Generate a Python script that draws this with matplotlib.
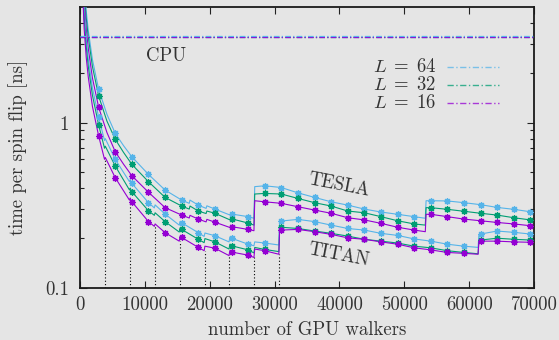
import matplotlib
matplotlib.use("Agg")
import matplotlib.pyplot as plt
from matplotlib.ticker import FixedLocator, NullLocator

plt.rcParams['font.family'] = 'cmr10'
plt.rcParams['mathtext.fontset'] = 'cm'
plt.rcParams['axes.unicode_minus'] = False

# walker counts where a point symbol sits on each curve
walkers_mk = [320, 2880, 5440, 8000, 10560, 13120, 15680, 18240, 20800, 23360,
              25920, 28480, 31040, 33600, 36160, 38720, 41280, 43840, 46400,
              48960, 51520, 54080, 56640, 59200, 61760, 64320, 66880, 69440]

# time per spin flip [ns] at walkers_mk
tesla64_mk = [14.0, 1.587, 0.860, 0.621, 0.486, 0.391, 0.340, 0.317, 0.300, 0.280,
              0.270, 0.415, 0.405, 0.376, 0.353, 0.332, 0.317, 0.300, 0.288,
              0.279, 0.270, 0.337, 0.336, 0.328, 0.319, 0.307, 0.299, 0.289]
tesla32_mk = [12.5, 1.446, 0.792, 0.559, 0.439, 0.353, 0.313, 0.292, 0.283, 0.262,
              0.247, 0.373, 0.370, 0.348, 0.328, 0.313, 0.292, 0.285, 0.270,
              0.255, 0.244, 0.306, 0.299, 0.291, 0.283, 0.276, 0.266, 0.258]
tesla16_mk = [11.0, 1.235, 0.666, 0.477, 0.379, 0.306, 0.276, 0.261, 0.250, 0.235,
              0.226, 0.332, 0.325, 0.310, 0.296, 0.283, 0.266, 0.258, 0.246,
              0.233, 0.224, 0.279, 0.270, 0.261, 0.255, 0.249, 0.244, 0.238]
titan64_mk = [10.0, 1.075, 0.599, 0.429, 0.328, 0.280, 0.248, 0.216, 0.207, 0.200,
              0.184, 0.187, 0.254, 0.260, 0.252, 0.240, 0.229, 0.224, 0.214,
              0.208, 0.198, 0.192, 0.184, 0.179, 0.212, 0.221, 0.217, 0.212]
titan32_mk = [8.7, 0.966, 0.546, 0.382, 0.293, 0.252, 0.226, 0.197, 0.190, 0.180,
              0.170, 0.171, 0.233, 0.229, 0.221, 0.214, 0.206, 0.197, 0.192,
              0.187, 0.179, 0.175, 0.168, 0.164, 0.195, 0.200, 0.197, 0.195]
titan16_mk = [7.5, 0.829, 0.464, 0.332, 0.252, 0.216, 0.202, 0.176, 0.174, 0.165,
              0.158, 0.168, 0.224, 0.226, 0.219, 0.211, 0.201, 0.197, 0.190,
              0.184, 0.175, 0.170, 0.164, 0.162, 0.192, 0.192, 0.190, 0.189]

# extra line points between symbols (walkers, time)
tesla64_extra = [(640, 7.0), (960, 4.75), (1280, 3.6), (1920, 2.4), (4160, 1.12), (6720, 0.725)]
tesla32_extra = [(640, 6.4), (960, 4.3), (1280, 3.28), (1920, 2.18), (4160, 1.02), (6720, 0.66)]
tesla16_extra = [(640, 5.5), (960, 3.7), (1280, 2.8), (1920, 1.86), (4160, 0.87), (6720, 0.56)]
titan64_extra = [(640, 4.8), (960, 3.2), (1280, 2.43), (1920, 1.62)]
titan32_extra = [(640, 4.3), (960, 2.88), (1280, 2.18), (1920, 1.46)]
titan16_extra = [(640, 3.7), (960, 2.48), (1280, 1.88), (1920, 1.25)]

# occupancy steps (walkers, time before, time after)
tesla64_steps = [(16900, 0.325, 0.340), (19500, 0.303, 0.314), (23200, 0.276, 0.284),
                 (26880, 0.264, 0.410), (53300, 0.264, 0.337)]
tesla32_steps = [(16900, 0.300, 0.313), (19500, 0.282, 0.292), (23200, 0.258, 0.266),
                 (26880, 0.240, 0.370), (53300, 0.240, 0.306)]
tesla16_steps = [(16900, 0.265, 0.275), (19500, 0.251, 0.260), (23200, 0.232, 0.240),
                 (26880, 0.222, 0.337), (53300, 0.219, 0.279)]
titan64_steps = [(3840, 0.78, 0.80), (7680, 0.440, 0.452), (11520, 0.305, 0.318),
                 (15360, 0.240, 0.252), (19200, 0.205, 0.215), (23040, 0.190, 0.203),
                 (26880, 0.180, 0.190), (30720, 0.182, 0.250), (61440, 0.176, 0.208)]
titan32_steps = [(3840, 0.70, 0.72), (7680, 0.392, 0.402), (11520, 0.275, 0.285),
                 (15360, 0.218, 0.230), (19200, 0.188, 0.199), (23040, 0.172, 0.184),
                 (26880, 0.163, 0.176), (30720, 0.166, 0.234), (61440, 0.161, 0.193)]
titan16_steps = [(3840, 0.600, 0.615), (7680, 0.340, 0.350), (11520, 0.236, 0.244),
                 (15360, 0.192, 0.205), (19200, 0.168, 0.179), (23040, 0.157, 0.168),
                 (26880, 0.153, 0.172), (30720, 0.160, 0.225), (61440, 0.160, 0.192)]

# CPU reference per lattice size
cpu_time = {32: 3.31, 16: 3.31, 64: 3.36}

col = {64: '#56b4e9', 32: '#009e73', 16: '#9400d3'}
dashdot = (0, (4.5, 1.8, 1.0, 1.8))
txt = '#333333'


def build_line(mk, extra, steps):
    pts = list(zip(walkers_mk, mk)) + list(extra)
    for x, lo, hi in steps:
        pts.append((x - 60, lo))
        pts.append((x + 60, hi))
    pts.sort()
    return [p[0] for p in pts], [p[1] for p in pts]


fig = plt.figure(figsize=(5.59, 3.40), dpi=100, facecolor='#e5e5e5')
ax = fig.add_axes([80 / 559, 1 - 288 / 340, 454 / 559, 281 / 340])
ax.set_facecolor('#e5e5e5')

curves = [
    (64, tesla64_mk, tesla64_extra, tesla64_steps),
    (32, tesla32_mk, tesla32_extra, tesla32_steps),
    (16, tesla16_mk, tesla16_extra, tesla16_steps),
    (64, titan64_mk, titan64_extra, titan64_steps),
    (32, titan32_mk, titan32_extra, titan32_steps),
    (16, titan16_mk, titan16_extra, titan16_steps),
]
for L, mk, extra, steps in curves:
    xs, ys = build_line(mk, extra, steps)
    ax.plot(xs, ys, color=col[L], lw=0.8, zorder=3)
    ax.plot(walkers_mk, mk, ls='none', marker=(8, 2, 0), ms=4.8, mew=0.9,
            color=col[L], zorder=4)

# dotted guides at multiples of 3840 walkers, up to the TITAN L=16 curve
ax.vlines([s[0] for s in titan16_steps[:8]], 0.1, [s[1] for s in titan16_steps[:8]],
          colors='black', linestyles=(0, (1, 2)), lw=0.8, zorder=2)

for L in (32, 16, 64):
    ax.axhline(cpu_time[L], color=col[L], lw=0.9, ls=dashdot, zorder=3)

ax.set_yscale('log')
ax.set_xlim(0, 70000)
ax.set_ylim(0.1, 5.0)

ax.xaxis.set_major_locator(FixedLocator([0, 10000, 20000, 30000, 40000, 50000, 60000, 70000]))
ax.xaxis.set_minor_locator(NullLocator())
ax.set_xticklabels(['0', '10000', '20000', '30000', '40000', '50000', '60000', '70000'])
ax.yaxis.set_major_locator(FixedLocator([0.1, 1]))
ax.set_yticklabels(['0.1', '1'])
ax.yaxis.set_minor_locator(FixedLocator([0.2, 0.3, 0.4, 0.5, 0.6, 0.7, 0.8, 0.9, 2, 3, 4]))
ax.yaxis.set_minor_formatter(plt.NullFormatter())

ax.tick_params(which='both', direction='in', top=True, right=True, colors='#222222',
               labelcolor=txt, labelsize=13.5)
ax.tick_params(which='major', length=5, width=0.8)
ax.tick_params(which='minor', length=3, width=0.8)
ax.tick_params(axis='x', pad=6)
ax.tick_params(axis='y', pad=8)
for s in ax.spines.values():
    s.set_linewidth(1.3)
    s.set_color('#1a1a1a')

ax.set_xlabel('number of GPU walkers', fontsize=13.5, color=txt, labelpad=5)
ax.set_ylabel('time per spin flip [ns]', fontsize=13.5, color=txt, labelpad=12)

ax.text(0.189, 0.826, 'CPU', transform=ax.transAxes, ha='center', va='center',
        fontsize=13.5, color=txt)
ax.text(0.570, 0.367, 'TESLA', transform=ax.transAxes, ha='center', va='center',
        fontsize=13.5, color=txt, rotation=-11)
ax.text(0.570, 0.117, 'TITAN', transform=ax.transAxes, ha='center', va='center',
        fontsize=13.5, color=txt, rotation=-11)

# key: label on the left, line sample on the right
for i, L in enumerate((64, 32, 16)):
    yk = 0.787 - i * 0.0645
    ax.text(0.784, yk, r'$L\;=\;%d$' % L, transform=ax.transAxes, ha='right',
            va='center', fontsize=13.5, color=txt)
    ax.plot([0.808, 0.923], [yk, yk], transform=ax.transAxes, color=col[L],
            lw=1.0, ls=dashdot, alpha=0.75)

fig.savefig('out.png', dpi=100, facecolor=fig.get_facecolor())
